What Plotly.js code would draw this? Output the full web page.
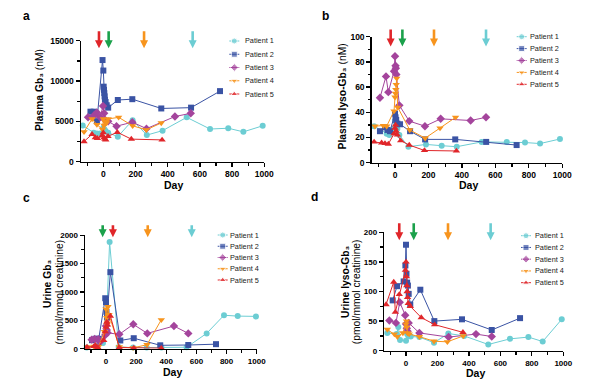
<!DOCTYPE html>
<html><head><meta charset="utf-8">
<script src="https://cdn.plot.ly/plotly-3.0.1.min.js"></script>
<style>html,body{margin:0;padding:0;background:#fff}#chart{width:600px;height:382px}</style>
</head><body><div id="chart"></div>
<script>
// ---------- categories / series ----------
const patients = ['Patient 1','Patient 2','Patient 3','Patient 4','Patient 5'];
const colors  = ['#6ccdd3','#3a53a4','#a4449c','#f7941d','#e0262a'];
const symbols = ['circle','square','diamond','triangle-down','triangle-up'];

// a: Plasma Gb3 (nM)
const pgDays1 = [-128,-60,-40,-20,0,7,14,30,90,182,270,368,518,663,776,870,990];
const pgVals1 = [4500,3600,3500,3500,4200,4000,3800,3600,3100,5150,3300,3850,5500,4050,4150,3700,4450];
const pgDays2 = [-80,-60,-40,-5,0,2,4,6,8,10,14,21,30,90,180,360,545,725];
const pgVals2 = [6200,6200,5000,12600,11300,9300,8900,8500,8100,7700,7400,7000,6700,7650,7750,6600,6700,8750];
const pgDays3 = [-95,-60,-40,-20,-2,5,10,30,82,180,268,445,543];
const pgVals3 = [5500,5700,6100,5500,6900,6000,5200,5000,4400,4900,4100,5600,6000];
const pgDays4 = [-120,-70,-40,-5,0,5,10,20,30,95,182,267,360];
const pgVals4 = [3700,5300,4600,4000,5300,4500,5000,4800,5300,5500,4450,3950,4800];
const pgDays5 = [-120,-70,-50,-37,-10,0,5,10,15,29,87,174,365];
const pgVals5 = [2500,3400,3000,2900,3200,3600,3000,2800,2700,3150,3650,2800,2700];

// b: Plasma lyso-Gb3 (nM)
const plDays1 = [-125,-50,-34,-10,0,7,14,26,80,185,279,369,518,668,777,867,986];
const plVals1 = [29,23,22,27,33,30,27,22,12.7,14.5,13.5,12.7,16.5,16.5,16,15.2,18.8];
const plDays2 = [-90,-60,-45,-30,0,3,7,14,30,90,180,360,545,727];
const plVals2 = [25,28,26,25,39,36,34,31,30.5,25,18.5,18.5,16.5,14];
const plDays3 = [-90,-54,-40,-6,0,3,5,8,26,85,179,273,452,544];
const plVals3 = [51.5,68.5,56,72.5,84.5,77,75,70,45.5,33,29,34.8,33.5,36];
const plDays4 = [-120,-70,-50,-6,0,3,5,7,10,16,88,180,269,362];
const plVals4 = [29,29.5,29,41,52,55,58,62,67,44,26,19.5,27.5,36];
const plDays5 = [-125,-80,-60,-40,-6,0,3,7,14,34,85,176,367];
const plVals5 = [16.5,15.8,15.3,14.8,23,27.5,30,25,22,17.5,14,9.7,9.3];

// c: Urine Gb3 (nmol/mmol creatinine)
const ugDays1 = [-128,-60,-20,0,24,84,180,270,368,535,668,783,874,995];
const ugVals1 = [20,50,100,300,1880,30,20,20,20,25,270,590,575,570];
const ugDays2 = [-93,-70,-48,-5,0,3,7,29,95,184,360,546,730];
const ugVals2 = [150,175,175,890,820,650,550,1350,145,185,60,65,80];
const ugDays3 = [-95,-75,-51,-40,-5,0,5,10,88,181,274,451,546];
const ugVals3 = [160,170,165,120,240,400,330,280,253,430,270,400,270];
const ugDays4 = [-124,-80,-50,-10,0,5,10,13,20,88,180,272,367];
const ugVals4 = [30,40,35,300,700,550,450,740,600,30,15,70,510];
const ugDays5 = [-126,-80,-71,-55,-15,-5,0,5,10,29,88,184,367];
const ugVals5 = [30,40,60,25,148,300,380,470,420,576,20,12,10];

// d: Urine lyso-Gb3 (pmol/mmol creatinine)
const ulDays1 = [-119,-60,-49,-38,0,7,15,30,85,178,269,369,523,661,778,869,990];
const ulVals1 = [30,28,40,18,17,28,25,24,23,13.5,29,25,10.5,20,23,15.5,53];
const ulDays2 = [-85,-57,-15,-4,0,3,7,12,17,27,91,180,356,545,725];
const ulVals2 = [85,109,117,144,179,130,115,110,96,78,103,50,53,35,55];
const ulDays3 = [-106,-64,-40,-5,0,5,10,17,85,271,445,545];
const ulVals3 = [51,47,82,60,45,38,33,47,30,23,28,24];
const ulDays4 = [-119,-74,-55,-20,0,3,5,10,20,85,178,263,364];
const ulVals4 = [36,28,23.7,30,45,50,40,30,28,23.7,16,15,25];
const ulDays5 = [-127,-78,-68,-43,-4,0,3,5,7,10,14,27,97,182,362];
const ulVals5 = [78,116,65,95,136,150,125,110,100,90,80,75,56,44,31];

// treatment arrows (day) and their colours
const RED='#e0262a', GREEN='#1ba14b', ORANGE='#f7941d', CYAN='#6ccdd3';
const arrowDaysA = [-27,33,253,555];  const arrowColorsA = [RED,GREEN,ORANGE,CYAN];
const arrowDaysB = [-26,44,233,544];  const arrowColorsB = [RED,GREEN,ORANGE,CYAN];
const arrowDaysC = [-22,46,277,569];  const arrowColorsC = [GREEN,RED,ORANGE,CYAN];
const arrowDaysD = [-43,49,267,538];  const arrowColorsD = [RED,GREEN,ORANGE,CYAN];

const xTickVals = [0,200,400,600,800,1000];

// ---------- layout helpers ----------
const W=600, H=382;
const FONT='Liberation Sans, Arial, sans-serif';
const px = x => x/W, py = y => 1 - y/H;

const panels = [
  {ax:'', letter:'a', days:[pgDays1,pgDays2,pgDays3,pgDays4,pgDays5], vals:[pgVals1,pgVals2,pgVals3,pgVals4,pgVals5],
   xd:[80.8,264.3], yd:[40.7,161.7], yr:[0,15000], dt:5000, mdt:2500, tf:8.5,
   arrows:arrowDaysA, acol:arrowColorsA, tipPx:48.2, alen:17,
   leg:{kx:234.3, tx:242.7, y0:41, dy:13.25},
   ytitles:[{t:'<b>Plasma Gb₃</b> (nM)', x:40, y:90}], dayPos:[173.3,185], letPos:[26.5,16.5]},
  {ax:'2', letter:'b', days:[plDays1,plDays2,plDays3,plDays4,plDays5], vals:[plVals1,plVals2,plVals3,plVals4,plVals5],
   xd:[371.6,562.3], yd:[36.7,162.7], yr:[0,100], dt:20, mdt:10, tf:8.5,
   arrows:arrowDaysB, acol:arrowColorsB, tipPx:46.5, alen:17,
   leg:{kx:521.7, tx:528, y0:36.7, dy:11.9},
   ytitles:[{t:'<b>Plasma lyso-Gb₃</b> (nM)', x:342.7, y:96.7}], dayPos:[468.3,185], letPos:[325,16]},
  {ax:'3', letter:'c', days:[ugDays1,ugDays2,ugDays3,ugDays4,ugDays5], vals:[ugVals1,ugVals2,ugVals3,ugVals4,ugVals5],
   xd:[84.9,256.7], yd:[235.3,348.7], yr:[0,2000], dt:500, mdt:250, tf:8,
   arrows:arrowDaysC, acol:arrowColorsC, tipPx:237.3, alen:12,
   leg:{kx:222.7, tx:228.3, y0:235, dy:11.25},
   ytitles:[{t:'<b>Urine Gb₃</b>', x:47.5, y:284.5}, {t:'(nmol/mmol creatinine)', x:59, y:292.5}],
   dayPos:[172.7,372], letPos:[26,197.5]},
  {ax:'4', letter:'d', days:[ulDays1,ulDays2,ulDays3,ulDays4,ulDays5], vals:[ulVals1,ulVals2,ulVals3,ulVals4,ulVals5],
   xd:[384,563.3], yd:[232.3,350.7], yr:[0,200], dt:50, mdt:25, tf:8,
   arrows:arrowDaysD, acol:arrowColorsD, tipPx:240.2, alen:17,
   leg:{kx:526, tx:533.3, y0:235.7, dy:11.75},
   ytitles:[{t:'<b>Urine lyso-Gb₃</b>', x:345, y:282}, {t:'(pmol/mmol creatinine)', x:356.5, y:291.7}],
   dayPos:[475,373], letPos:[314.5,197]}
];

const traces = [];
const annotations = [];
const shapes = [];
const layout = {
  width:W, height:H, margin:{l:0,r:0,t:0,b:0},
  paper_bgcolor:'#fff', plot_bgcolor:'rgba(0,0,0,0)', showlegend:false,
  font:{family:FONT, color:'#000'}, annotations, shapes, hovermode:false
};

function arrowPath(L) {
  const sw=1.3, hw=4, hl=8;
  return `M-${sw},${L} L${sw},${L} L${sw},${hl} L${hw},${hl} L0,0 L-${hw},${hl} L-${sw},${hl} Z`;
}

panels.forEach(p => {
  const xk = 'x'+p.ax, yk = 'y'+p.ax;
  const tickFont = {family:FONT, size:p.tf, color:'#000', weight:'bold'};
  layout['xaxis'+p.ax] = {
    domain:[px(p.xd[0]), px(p.xd[1])], anchor:yk, range:[-140,1000],
    tickmode:'array', tickvals:xTickVals, tickformat:'d',
    ticks:'outside', ticklen:4, tickwidth:1.3, tickcolor:'#000',
    showline:true, linecolor:'#000', linewidth:1.3, showgrid:false, zeroline:false,
    tickfont:tickFont, fixedrange:true,
    minor:{tickmode:'linear', tick0:0, dtick:100, ticks:'outside', ticklen:2.5, tickwidth:1.3, tickcolor:'#000', showgrid:false}
  };
  layout['yaxis'+p.ax] = {
    domain:[py(p.yd[1]), py(p.yd[0])], anchor:xk, range:p.yr,
    tickmode:'linear', tick0:0, dtick:p.dt, tickformat:'d',
    ticks:'outside', ticklen:4, tickwidth:1.3, tickcolor:'#000',
    showline:true, linecolor:'#000', linewidth:1.3, showgrid:false, zeroline:false,
    tickfont:tickFont, fixedrange:true,
    minor:{tickmode:'linear', tick0:0, dtick:p.mdt, ticks:'outside', ticklen:2.5, tickwidth:1.3, tickcolor:'#000', showgrid:false}
  };
  // data series
  patients.forEach((name,i) => {
    traces.push({
      type:'scatter', mode:'lines+markers', name, x:p.days[i], y:p.vals[i],
      xaxis:xk, yaxis:yk, cliponaxis:false,
      line:{color:colors[i], width:1},
      marker:{color:colors[i], symbol:symbols[i], size: i<2?6:6.5}
    });
  });
  // compact legend (keys drawn on a pixel overlay axis)
  patients.forEach((name,i) => {
    const yy = p.leg.y0 + i*p.leg.dy;
    traces.push({
      type:'scatter', mode:'lines+markers', x:[p.leg.kx-5, p.leg.kx, p.leg.kx+5], y:[yy,yy,yy],
      xaxis:'x5', yaxis:'y5', cliponaxis:false, hoverinfo:'skip',
      line:{color:colors[i], width:1},
      marker:{color:colors[i], symbol:symbols[i], size:[0,6,0]}
    });
    annotations.push({xref:'paper', yref:'paper', x:px(p.leg.tx), y:py(yy), xanchor:'left', yanchor:'middle',
      text:name, showarrow:false, font:{family:FONT, size:7.3, color:'#222'}});
  });
  // treatment arrows (positioned on the day axis)
  p.arrows.forEach((d,k) => {
    shapes.push({type:'path', xref:xk, yref:'paper', xsizemode:'pixel', ysizemode:'pixel',
      xanchor:d, yanchor:py(p.tipPx), path:arrowPath(p.alen),
      fillcolor:p.acol[k], line:{width:0}, layer:'above'});
  });
  // y titles
  p.ytitles.forEach(t => {
    annotations.push({xref:'paper', yref:'paper', x:px(t.x), y:py(t.y), xanchor:'center', yanchor:'middle',
      text:t.t, textangle:-90, showarrow:false, font:{family:FONT, size:10.3, color:'#000'}});
  });
  // x title
  annotations.push({xref:'paper', yref:'paper', x:px(p.dayPos[0]), y:py(p.dayPos[1]), xanchor:'center', yanchor:'middle',
    text:'<b>Day</b>', showarrow:false, font:{family:FONT, size:10.5, color:'#000'}});
  // panel letter
  annotations.push({xref:'paper', yref:'paper', x:px(p.letPos[0]), y:py(p.letPos[1]), xanchor:'center', yanchor:'middle',
    text:'<b>'+p.letter+'</b>', showarrow:false, font:{family:FONT, size:12, color:'#000'}});
});

layout.xaxis5 = {domain:[0,1], range:[0,W], visible:false, fixedrange:true, anchor:'y5'};
layout.yaxis5 = {domain:[0,1], range:[H,0], visible:false, fixedrange:true, anchor:'x5'};

Plotly.newPlot('chart', traces, layout, {staticPlot:true, displayModeBar:false});
</script></body></html>
